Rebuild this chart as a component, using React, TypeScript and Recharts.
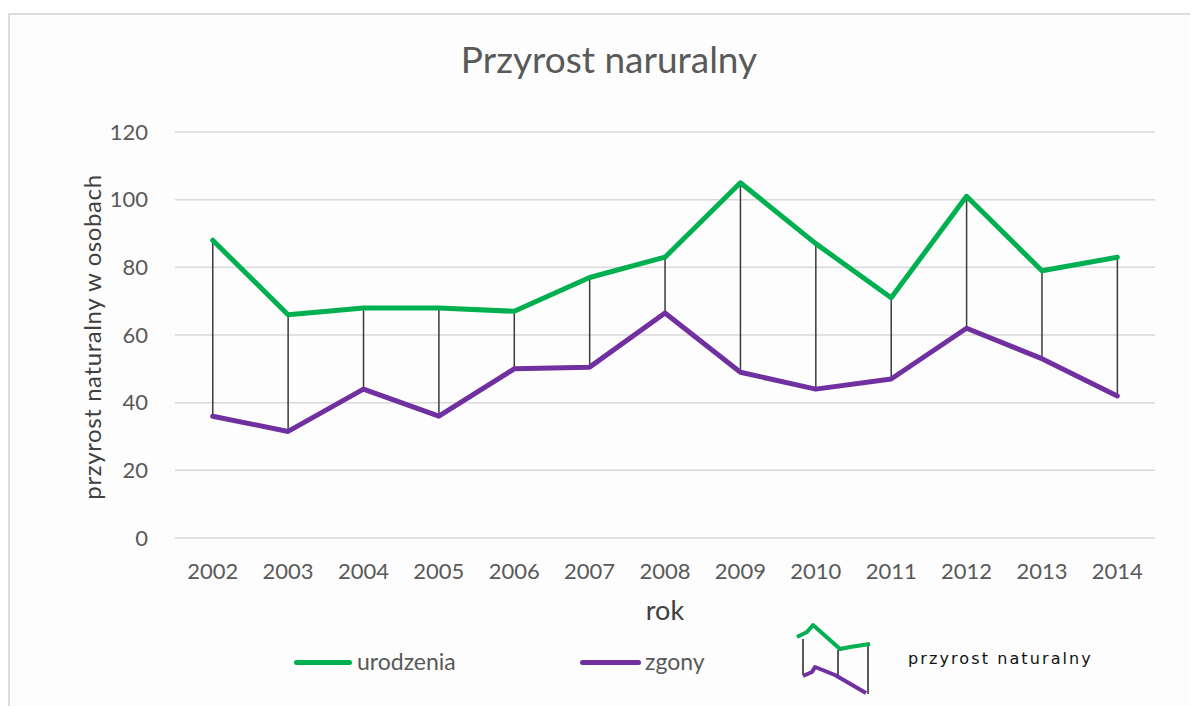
import React from 'react';
import { ComposedChart, Line, Bar, XAxis, YAxis, CartesianGrid, Legend, Label } from 'recharts';

const years = ['2002', '2003', '2004', '2005', '2006', '2007', '2008', '2009', '2010', '2011', '2012', '2013', '2014'];
const urodzenia = [88, 66, 68, 68, 67, 77, 83, 105, 87, 71, 101, 79, 83];
const zgony = [36, 31.5, 44, 36, 50, 50.5, 66.5, 49, 44, 47, 62, 53, 42];
const yTicks = [0, 20, 40, 60, 80, 100, 120];

const GREEN = '#00B050';
const PURPLE = '#7030A0';
const TEXT = '#595959';
const FONT = 'Lato, "Open Sans", sans-serif';

const data = years.map((rok, i) => ({
  rok,
  urodzenia: urodzenia[i],
  zgony: zgony[i],
  przyrost: [zgony[i], urodzenia[i]],
}));

const YLabel = (props: any) => {
  const vb = props.viewBox;
  const x = vb.x + 16;
  const y = vb.y + vb.height / 2 + 2;
  return (
    <text x={x} y={y} transform={`rotate(-90 ${x} ${y})`} textAnchor="middle" dominantBaseline="central"
      fill="#404040" fontSize={24} letterSpacing={0.6} fontFamily={FONT}>
      przyrost naturalny w osobach
    </text>
  );
};

const XLabel = (props: any) => {
  const vb = props.viewBox;
  return (
    <text x={vb.x + vb.width / 2} y={vb.y + 82} textAnchor="middle" fill="#404040" fontSize={27} fontFamily={FONT}>
      rok
    </text>
  );
};

const LegendContent = () => (
  <div style={{ position: 'relative', width: 1190, height: 90, fontFamily: FONT }}>
    <div style={{ position: 'absolute', left: 286, top: 40, width: 58, height: 5, borderRadius: 3, background: GREEN }} />
    <span style={{ position: 'absolute', left: 349, top: 27, fontSize: 23, color: TEXT }}>urodzenia</span>
    <div style={{ position: 'absolute', left: 572, top: 40, width: 61, height: 5, borderRadius: 3, background: PURPLE }} />
    <span style={{ position: 'absolute', left: 637, top: 27, fontSize: 23, color: TEXT }}>zgony</span>
    <svg style={{ position: 'absolute', left: 782, top: 0 }} width={90} height={90}>
      <g transform="translate(-790,-618)">
        <line x1={803} y1={637} x2={803} y2={673} stroke="#222" strokeWidth={1.5} />
        <line x1={838} y1={648} x2={838} y2={675} stroke="#222" strokeWidth={1.5} />
        <line x1={868} y1={643} x2={868} y2={692} stroke="#222" strokeWidth={1.5} />
        <polyline points="797,635 807,630 813,623 840,647 850,645 870,642" fill="none" stroke={GREEN} strokeWidth={4} strokeLinejoin="round" />
        <polyline points="803,674 812,670 815,665 835,673 866,691" fill="none" stroke={PURPLE} strokeWidth={4} strokeLinejoin="round" />
      </g>
    </svg>
    <span style={{ position: 'absolute', left: 900, top: 29, fontSize: 16, color: '#111', fontFamily: '"DejaVu Sans", sans-serif', letterSpacing: 2.1 }}>przyrost naturalny</span>
  </div>
);

export default function App() {
  return (
    <div style={{ position: 'relative', width: 1190, height: 698 }}>
      <div style={{ position: 'absolute', left: 0, top: 5, right: 0, bottom: 0, borderTop: '2px solid #dcdcdc', borderLeft: '2px solid #dcdcdc', background: '#fdfdfd' }} />
      <div style={{ position: 'absolute', left: 0, top: 28, width: 1202, textAlign: 'center', fontFamily: FONT, fontSize: 37, color: TEXT }}>
        Przyrost naruralny
      </div>
      <div style={{ position: 'absolute', left: 0, top: 0 }}>
        <ComposedChart width={1190} height={698} data={data} margin={{ top: 124, right: 43, bottom: 78, left: 67 }}>
          <CartesianGrid vertical={false} stroke="#d9d9d9" strokeWidth={1.5} />
          <XAxis dataKey="rok" height={90} axisLine={false} tickLine={false} tickMargin={19}
            tick={{ fill: TEXT, fontSize: 22, fontFamily: FONT }} interval={0}>
            <Label content={<XLabel />} />
          </XAxis>
          <YAxis width={100} domain={[0, 120]} ticks={yTicks} axisLine={false} tickLine={false} tickMargin={21}
            tick={{ fill: TEXT, fontSize: 22, fontFamily: FONT }}>
            <Label content={<YLabel />} />
          </YAxis>
          <Bar dataKey="przyrost" barSize={1.5} fill="#3a3a3a" isAnimationActive={false} legendType="none" />
          <Line dataKey="urodzenia" stroke={GREEN} strokeWidth={5} dot={false} strokeLinejoin="round" strokeLinecap="round" isAnimationActive={false} />
          <Line dataKey="zgony" stroke={PURPLE} strokeWidth={5} dot={false} strokeLinejoin="round" strokeLinecap="round" isAnimationActive={false} />
          <Legend layout="horizontal" verticalAlign="middle" align="center" content={<LegendContent />}
            wrapperStyle={{ top: 612, left: 0, width: 1190, height: 90 }} />
        </ComposedChart>
      </div>
    </div>
  );
}
